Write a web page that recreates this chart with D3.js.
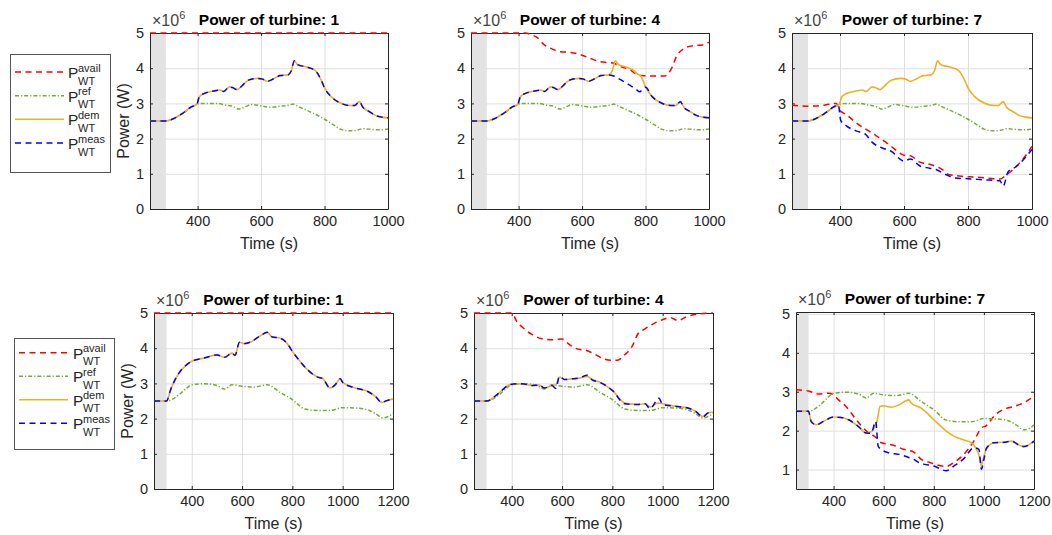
<!DOCTYPE html>
<html><head><meta charset="utf-8">
<script src="https://cdn.jsdelivr.net/npm/d3@7"></script>
<style>
body{margin:0;background:#fff}
svg text{font-family:"Liberation Sans",Arial,Helvetica,sans-serif}
</style>
</head><body>
<svg id="c" width="1052" height="535"></svg>
<script>
// ---------------- DATA (values in ×10^6 W, time in s) ----------------
const turbineIds = [1, 4, 7, 1, 4, 7];
const xTicksTop = [400, 600, 800, 1000];
const xTicksBottom = [400, 600, 800, 1000, 1200];
const yTicksFull = [0, 1, 2, 3, 4, 5];
const yTicksT7b = [1, 2, 3, 4, 5];
const shadeSpan = [250, 300];

// Top row (scenario A)
const availA1 = [[250,5],[1000,5]];
const refA = [[250,2.5],[300,2.5],[330,2.6],[350,2.7],[380,2.88],[400,2.98],[420,3.0],[460,3.0],[490,2.95],[510,2.92],[530,2.84],[550,2.9],[570,2.97],[600,2.93],[630,2.89],[660,2.92],[690,2.95],[700,2.98],[720,2.9],[750,2.78],[780,2.65],[800,2.55],[830,2.38],[850,2.27],[880,2.22],[900,2.23],[920,2.28],[950,2.26],[975,2.25],[1000,2.27]];
const demA = [[250,2.5],[300,2.5],[320,2.55],[350,2.7],[380,2.9],[398,2.98],[405,3.18],[420,3.28],[450,3.35],[470,3.38],[482,3.34],[500,3.47],[510,3.45],[525,3.39],[540,3.5],[560,3.66],[590,3.71],[605,3.69],[620,3.63],[640,3.7],[660,3.79],[685,3.81],[695,3.92],[705,4.21],[715,4.1],[740,4.04],[770,3.94],[790,3.65],[800,3.44],[820,3.2],[850,3.01],[880,2.94],[895,2.94],[910,3.05],[920,2.9],[940,2.77],[960,2.66],[980,2.61],[1000,2.59]];
const measA1 = [[250,2.5],[300,2.5],[320,2.55],[350,2.7],[380,2.9],[398,2.98],[405,3.18],[420,3.28],[450,3.35],[470,3.38],[482,3.34],[500,3.47],[510,3.45],[525,3.39],[540,3.5],[560,3.66],[590,3.71],[605,3.69],[620,3.63],[640,3.7],[660,3.79],[685,3.81],[695,3.92],[705,4.21],[715,4.1],[740,4.04],[770,3.94],[790,3.65],[800,3.44],[820,3.2],[850,3.01],[880,2.94],[895,2.94],[910,3.05],[920,2.9],[940,2.77],[960,2.66],[980,2.61],[1000,2.59]];

const availA4 = [[250,5],[420,5],[440,4.95],[460,4.86],[480,4.67],[500,4.57],[530,4.47],[560,4.45],[590,4.4],[620,4.3],[650,4.2],[680,4.16],[700,4.14],[720,4.05],[750,3.96],[770,3.84],[785,3.79],[820,3.78],[860,3.78],[880,3.96],[900,4.38],[920,4.55],[950,4.64],[980,4.66],[1000,4.74]];
const demA4 = [[250,2.5],[300,2.5],[320,2.55],[350,2.7],[380,2.9],[398,2.98],[405,3.18],[420,3.28],[450,3.35],[470,3.38],[482,3.34],[500,3.47],[510,3.45],[525,3.39],[540,3.5],[560,3.66],[590,3.71],[605,3.69],[620,3.63],[640,3.7],[660,3.79],[685,3.81],[695,3.92],[705,4.21],[715,4.1],[740,4.03],[760,3.95],[775,3.83],[785,3.78],[800,3.47],[820,3.2],[850,3.01],[880,2.94],[895,2.94],[910,3.05],[920,2.9],[940,2.77],[960,2.66],[980,2.61],[1000,2.59]];
const measA4 = [[250,2.5],[300,2.5],[320,2.55],[350,2.7],[380,2.9],[398,2.98],[405,3.18],[420,3.28],[450,3.35],[470,3.38],[482,3.34],[500,3.47],[510,3.45],[525,3.39],[540,3.5],[560,3.66],[590,3.71],[605,3.69],[620,3.63],[640,3.7],[660,3.79],[685,3.81],[700,3.78],[720,3.68],[750,3.52],[770,3.4],[782,3.33],[792,3.42],[800,3.46],[820,3.2],[850,3.01],[880,2.94],[895,2.94],[910,3.05],[920,2.9],[940,2.77],[960,2.66],[980,2.61],[1000,2.59]];

const availA7 = [[250,2.95],[300,2.92],[350,2.95],[388,3.0],[400,2.8],[420,2.68],[450,2.45],[500,2.16],[540,1.92],[560,1.78],[600,1.53],[620,1.51],[650,1.33],[680,1.27],[700,1.21],[720,1.12],[740,0.98],[780,0.93],[820,0.91],[860,0.88],[900,0.85],[915,0.93],[940,1.12],[970,1.4],[1000,1.78]];
const measA7 = [[250,2.5],[300,2.5],[320,2.55],[350,2.7],[380,2.9],[395,2.96],[402,2.52],[420,2.36],[450,2.22],[480,2.12],[500,1.9],[530,1.74],[560,1.64],[600,1.36],[620,1.42],[650,1.22],[680,1.16],[700,1.12],[730,0.98],[760,0.88],[800,0.86],[850,0.83],[900,0.8],[910,0.65],[925,1.05],[950,1.2],[1000,1.69]];

// Bottom row (scenario B)
const availB1 = [[250,5],[1200,5]];
const refB = [[250,2.5],[300,2.5],[350,2.68],[380,2.87],[400,2.96],[450,2.99],[500,2.94],[530,2.84],[560,2.96],[600,2.92],[650,2.9],[700,2.96],[750,2.75],[800,2.54],[850,2.27],[900,2.23],[950,2.23],[1000,2.31],[1050,2.3],[1100,2.25],[1130,2.14],[1160,2.02],[1200,2.14]];
const demB1 = [[250,2.5],[300,2.5],[315,2.8],[330,3.05],[350,3.3],[375,3.5],[400,3.63],[450,3.72],[500,3.81],[530,3.74],[560,3.86],[572,3.8],[590,4.17],[610,4.13],[640,4.2],[670,4.34],[700,4.45],[720,4.32],[750,4.29],[780,4.13],[800,3.91],[830,3.63],[860,3.39],[900,3.18],[920,3.14],[950,2.87],[970,2.96],[990,3.13],[1000,3.03],[1050,2.87],[1100,2.77],[1130,2.63],[1155,2.46],[1175,2.51],[1200,2.56]];
const measB1 = [[250,2.5],[300,2.5],[315,2.8],[330,3.05],[350,3.3],[375,3.5],[400,3.63],[450,3.72],[500,3.81],[530,3.74],[560,3.86],[572,3.8],[590,4.17],[610,4.13],[640,4.2],[670,4.34],[700,4.45],[720,4.32],[750,4.29],[780,4.13],[800,3.91],[830,3.63],[860,3.39],[900,3.18],[920,3.14],[950,2.87],[970,2.96],[990,3.13],[1000,3.03],[1050,2.87],[1100,2.77],[1130,2.63],[1155,2.46],[1175,2.51],[1200,2.56]];

const availB4 = [[250,5],[400,5],[420,4.76],[450,4.55],[480,4.39],[520,4.27],[560,4.24],[600,4.26],[630,4.1],[660,3.98],[700,3.93],[740,3.79],[770,3.69],[800,3.66],[820,3.66],[850,3.82],[880,4.07],[900,4.39],[930,4.55],[970,4.72],[1000,4.81],[1030,4.87],[1060,4.79],[1100,4.91],[1150,4.98],[1200,5.0]];
const demB4 = [[250,2.5],[300,2.5],[350,2.73],[390,2.96],[420,2.99],[450,2.98],[480,2.94],[510,2.95],[530,2.87],[560,2.94],[575,2.96],[590,3.18],[610,3.11],[640,3.13],[670,3.15],[700,3.2],[720,3.11],[750,3.03],[800,2.8],[850,2.44],[900,2.4],[930,2.42],[950,2.33],[980,2.44],[1000,2.42],[1050,2.35],[1100,2.3],[1130,2.21],[1160,2.06],[1180,2.16],[1200,2.18]];
const measB4 = [[250,2.5],[300,2.5],[350,2.73],[390,2.96],[420,2.99],[450,2.98],[480,2.94],[510,2.95],[530,2.87],[560,2.94],[575,2.86],[590,3.2],[610,3.11],[640,3.13],[670,3.16],[700,3.23],[720,3.1],[750,3.03],[800,2.8],[850,2.42],[900,2.4],[930,2.42],[950,2.28],[985,2.58],[1000,2.4],[1050,2.35],[1100,2.3],[1130,2.21],[1160,2.05],[1180,2.16],[1200,2.18]];

const availB7 = [[250,3.05],[300,3.02],[340,2.94],[380,2.96],[400,2.92],[420,2.79],[450,2.62],[480,2.37],[510,2.13],[540,1.94],[570,1.82],[590,1.69],[620,1.65],[650,1.6],[680,1.52],[720,1.45],[750,1.26],[780,1.19],[820,1.11],[850,1.08],[880,1.18],[920,1.39],[960,1.73],[990,2.07],[1010,2.13],[1040,2.37],[1080,2.55],[1120,2.62],[1160,2.72],[1200,2.88]];
const demB7 = [[250,2.5],[300,2.5],[310,2.24],[330,2.15],[360,2.24],[400,2.35],[430,2.34],[460,2.28],[500,2.1],[530,1.94],[550,1.97],[565,2.11],[575,2.28],[585,2.62],[600,2.64],[630,2.6],[660,2.66],[700,2.79],[710,2.71],[750,2.58],[800,2.28],[850,1.99],[880,1.86],[920,1.76],[950,1.69],[970,1.52],[985,1.26],[990,1.09],[995,1.22],[1010,1.52],[1040,1.69],[1080,1.7],[1110,1.73],[1140,1.63],[1160,1.59],[1200,1.73]];
const measB7 = [[250,2.5],[300,2.5],[310,2.24],[330,2.15],[360,2.24],[400,2.35],[430,2.34],[460,2.28],[500,2.1],[530,1.94],[550,1.93],[568,2.24],[578,1.6],[590,1.52],[620,1.43],[660,1.39],[700,1.31],[720,1.26],[740,1.18],[760,1.14],[800,1.09],[850,0.97],[880,1.09],[920,1.28],[960,1.56],[980,1.52],[990,1.01],[1000,1.26],[1010,1.55],[1040,1.69],[1080,1.7],[1110,1.73],[1140,1.63],[1160,1.59],[1200,1.73]];

const legendKeys = ["avail", "ref", "dem", "meas"];

// ---------------- LAYOUT / STYLE ----------------
const styles = {
  avail: {color:"#ff0000", dash:"6,4.5", width:1.5},
  ref:   {color:"#77ac30", dash:"4,2,1.2,2", width:1.5},
  dem:   {color:"#edb120", dash:null, width:1.6},
  meas:  {color:"#0000ff", dash:"6,4.5", width:1.5}
};
const panels = [
  {box:[150,33,388,209],  xd:[250,1000], yd:[0,5],    xt:xTicksTop,    yt:yTicksFull, ylab:[123,121], s:{avail:availA1, ref:refA, dem:demA,  meas:measA1}},
  {box:[471,33,709,209],  xd:[250,1000], yd:[0,5],    xt:xTicksTop,    yt:yTicksFull, ylab:null,      s:{avail:availA4, ref:refA, dem:demA4, meas:measA4}},
  {box:[792,33,1032,209], xd:[250,1000], yd:[0,5],    xt:xTicksTop,    yt:yTicksFull, ylab:null,      s:{avail:availA7, ref:refA, dem:demA,  meas:measA7}},
  {box:[154,313,393,489], xd:[250,1200], yd:[0,5],    xt:xTicksBottom, yt:yTicksFull, ylab:[127,401], s:{avail:availB1, ref:refB, dem:demB1, meas:measB1}},
  {box:[474,313,713,489], xd:[250,1200], yd:[0,5],    xt:xTicksBottom, yt:yTicksFull, ylab:null,      s:{avail:availB4, ref:refB, dem:demB4, meas:measB4}},
  {box:[796,312,1034,489],xd:[250,1200], yd:[0.5,5.05],xt:xTicksBottom, yt:yTicksT7b,  ylab:null,      s:{avail:availB7, ref:refB, dem:demB7, meas:measB7}}
];
const legends = [
  {box:[10,54,110,172], rows:[72,95.7,119.3,143], lx:[15,64], tx:68},
  {box:[14,338,114,449], rows:[352.7,376.2,399.7,423.3], lx:[19,68], tx:73}
];

const svg = d3.select("#c");
const axisCol = "#262626";

panels.forEach((p, i) => {
  const [x0, y0, x1, y1] = p.box;
  const w = x1 - x0, h = y1 - y0;
  const x = d3.scaleLinear().domain(p.xd).range([0, w]);
  const y = d3.scaleLinear().domain(p.yd).range([h, 0]);
  const g = svg.append("g").attr("transform", `translate(${x0},${y0})`);

  const clipId = "clip" + i;
  g.append("clipPath").attr("id", clipId).append("rect")
    .attr("x", -1).attr("y", -2).attr("width", w + 2).attr("height", h + 4);

  // grid
  const gx = g.append("g").attr("transform", `translate(0,${h})`)
    .call(d3.axisBottom(x).tickValues(p.xt).tickSize(-h).tickFormat(""));
  const gy = g.append("g")
    .call(d3.axisLeft(y).tickValues(p.yt).tickSize(-w).tickFormat(""));
  [gx, gy].forEach(a => { a.select(".domain").remove(); a.selectAll("line").attr("stroke", "#dedede").attr("stroke-width", 1); });

  // shaded start-up region
  g.append("rect")
    .attr("x", x(shadeSpan[0])).attr("y", 0)
    .attr("width", x(shadeSpan[1]) - x(shadeSpan[0])).attr("height", h)
    .attr("fill", "#e3e3e3");

  // axes (ticks inside, box)
  const fmt = d3.format("d");
  const ab = g.append("g").attr("transform", `translate(0,${h})`)
    .call(d3.axisBottom(x).tickValues(p.xt).tickSizeInner(-3).tickSizeOuter(0).tickPadding(7).tickFormat(fmt));
  const at = g.append("g")
    .call(d3.axisTop(x).tickValues(p.xt).tickSizeInner(-3).tickSizeOuter(0).tickFormat(""));
  const al = g.append("g")
    .call(d3.axisLeft(y).tickValues(p.yt).tickSizeInner(-3).tickSizeOuter(0).tickPadding(6).tickFormat(fmt));
  const ar = g.append("g").attr("transform", `translate(${w},0)`)
    .call(d3.axisRight(y).tickValues(p.yt).tickSizeInner(-3).tickSizeOuter(0).tickFormat(""));
  [ab, at, al, ar].forEach(a => {
    a.select(".domain").attr("stroke", axisCol).attr("stroke-width", 1);
    a.selectAll(".tick line").attr("stroke", axisCol);
    a.selectAll("text").attr("fill", axisCol).style("font-size", "14.5px")
      .style("font-family", '"Liberation Sans",Arial,sans-serif');
  });

  // series (on top of axes box)
  const line = d3.line().x(d => x(d[0])).y(d => y(d[1])).curve(d3.curveMonotoneX);
  const lg = g.append("g").attr("clip-path", `url(#${clipId})`);
  legendKeys.forEach(k => {
    const st = styles[k];
    lg.append("path").datum(p.s[k]).attr("d", line)
      .attr("fill", "none").attr("stroke", st.color).attr("stroke-width", st.width)
      .attr("stroke-dasharray", st.dash).attr("stroke-linejoin", "round");
  });

  // exponent label
  const ex = g.append("text").attr("x", 2).attr("y", -7).attr("fill", "#444").style("font-size", "16px");
  ex.append("tspan").text("×10");
  ex.append("tspan").attr("dy", -7).style("font-size", "11px").text("6");

  // title
  g.append("text").attr("x", w / 2).attr("y", -8).attr("text-anchor", "middle")
    .style("font-size", "15.5px").style("font-weight", "bold").attr("fill", "#000")
    .text("Power of turbine: " + turbineIds[i]);

  // x label
  g.append("text").attr("x", w / 2).attr("y", h + 40).attr("text-anchor", "middle")
    .style("font-size", "16px").attr("fill", axisCol).text("Time (s)");

  // y label
  if (p.ylab) {
    svg.append("text").attr("transform", `translate(${p.ylab[0]},${p.ylab[1]}) rotate(-90)`)
      .attr("text-anchor", "middle").attr("dominant-baseline", "central")
      .style("font-size", "16px").attr("fill", axisCol).text("Power (W)");
  }
});

// legends
const supTxt = {avail:"avail", ref:"ref", dem:"dem", meas:"meas"};
legends.forEach(L => {
  const [bx0, by0, bx1, by1] = L.box;
  svg.append("rect").attr("x", bx0 + 0.5).attr("y", by0 + 0.5).attr("width", bx1 - bx0).attr("height", by1 - by0)
    .attr("fill", "#fff").attr("stroke", "#555").attr("stroke-width", 1);
  legendKeys.forEach((k, j) => {
    const st = styles[k];
    const yy = L.rows[j];
    svg.append("line").attr("x1", L.lx[0]).attr("x2", L.lx[1]).attr("y1", yy).attr("y2", yy)
      .attr("stroke", st.color).attr("stroke-width", st.width).attr("stroke-dasharray", st.dash);
    svg.append("text").attr("x", L.tx).attr("y", yy + 6).attr("fill", axisCol)
      .style("font-size", "15.5px").text("P");
    svg.append("text").attr("x", L.tx + 10).attr("y", yy - 0.5).attr("fill", axisCol)
      .style("font-size", "11px").text(supTxt[k]);
    svg.append("text").attr("x", L.tx + 10).attr("y", yy + 12.5).attr("fill", axisCol)
      .style("font-size", "11px").text("WT");
  });
});
</script>
</body></html>
